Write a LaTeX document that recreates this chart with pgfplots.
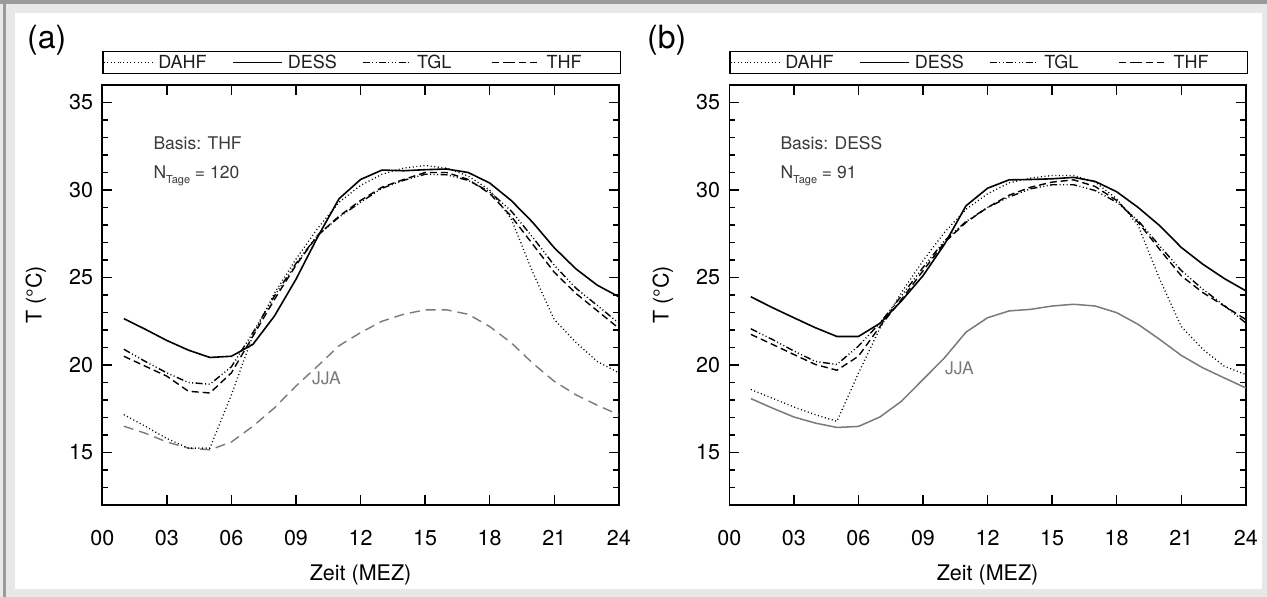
\documentclass[border=0pt]{standalone}
\usepackage{fontspec}
\setmainfont{TeX Gyre Heros}
\usepackage{pgfplots}
\pgfplotsset{compat=1.18}
\usepackage{pgfplotstable}

\definecolor{bggrey}{HTML}{E7E8E7}
\definecolor{framegrey}{HTML}{9A9A9A}
\definecolor{jja}{HTML}{7A7A7A}
\definecolor{annot}{HTML}{3A3A3A}
\definecolor{legtext}{HTML}{1E1E1E}

% hour, DAHF, DESS, TGL, THF, JJA  (Basis THF)
\pgfplotstableread{
h  DAHF  DESS  TGL   THF   JJA
1  17.16 22.65 20.90 20.50 16.50
2  16.50 22.04 20.20 19.93 16.10
3  15.80 21.40 19.55 19.36 15.60
4  15.25 20.85 19.00 18.50 15.25
5  15.25 20.43 18.90 18.40 15.15
6  18.30 20.50 19.90 19.55 15.60
7  21.70 21.18 21.85 21.65 16.50
8  24.10 22.80 23.95 23.75 17.55
9  26.05 24.90 25.80 25.70 18.80
10 27.80 27.30 27.40 27.40 19.93
11 29.30 29.50 28.45 28.50 21.10
12 30.26 30.60 29.30 29.40 21.85
13 30.90 31.14 30.10 30.16 22.50
14 31.25 31.10 30.55 30.60 22.90
15 31.40 31.16 30.90 31.00 23.15
16 31.25 31.20 30.87 31.00 23.15
17 30.80 31.00 30.55 30.60 22.90
18 30.00 30.40 29.90 29.80 22.20
19 28.35 29.40 28.80 28.50 21.27
20 25.30 28.15 27.30 26.90 20.10
21 22.60 26.70 25.70 25.30 19.07
22 21.30 25.50 24.40 24.10 18.30
23 20.20 24.56 23.40 23.10 17.70
24 19.55 23.90 22.40 22.10 17.16
}\thfdata

% hour, DAHF, DESS, TGL, THF, JJA  (Basis DESS)
\pgfplotstableread{
h  DAHF  DESS  TGL   THF   JJA
1  18.60 23.90 22.07 21.75 18.08
2  18.10 23.28 21.46 21.18 17.54
3  17.60 22.70 20.80 20.60 17.03
4  17.16 22.13 20.20 20.03 16.68
5  16.78 21.63 20.03 19.70 16.43
6  19.53 21.63 21.08 20.50 16.49
7  22.10 22.38 22.40 22.20 17.03
8  24.14 23.66 23.95 23.75 17.93
9  25.96 25.10 25.57 25.38 19.17
10 27.58 26.90 27.10 27.00 20.41
11 28.90 29.10 28.20 28.15 21.88
12 29.78 30.10 29.00 29.00 22.70
13 30.41 30.58 29.60 29.70 23.09
14 30.68 30.60 30.07 30.16 23.18
15 30.83 30.64 30.30 30.45 23.37
16 30.83 30.72 30.30 30.58 23.47
17 30.45 30.49 29.97 30.20 23.37
18 29.50 29.90 29.30 29.40 22.99
19 27.96 29.00 28.25 28.15 22.32
20 24.90 27.96 26.80 26.60 21.46
21 22.20 26.72 25.40 25.10 20.55
22 20.90 25.76 24.33 24.14 19.84
23 19.93 24.94 23.40 23.37 19.26
24 19.45 24.24 22.40 22.60 18.69
}\dessdata

\pgfplotsset{
  panel/.style={
    scale only axis,
    width=516.5pt, height=420pt,
    xmin=0, xmax=24, ymin=12, ymax=36,
    xtick={0,3,...,24},
    xticklabels={00,03,06,09,12,15,18,21,24},
    ytick={15,20,25,30,35},
    minor ytick={13,14,...,35},
    major tick length=10pt, minor tick length=6pt,
    every tick/.style={black, line width=1.3pt},
    axis line style={line width=1.6pt},
    /pgf/number format/assume math mode=true,
    tick label style={font=\fontsize{21.5}{24}\selectfont},
    xticklabel style={anchor=north, inner sep=0pt, yshift=-25pt},
    yticklabel style={anchor=east, inner sep=0pt, xshift=-9pt},
    label style={font=\fontsize{21.5}{24}\selectfont},
    xlabel={Zeit (MEZ)},
    xlabel style={at={(axis description cs:0.5,-0.1786)}, anchor=base, inner sep=0pt},
    ylabel={T (°C)},
    ylabel style={at={(axis description cs:-0.1173,0.5)}, anchor=base, inner sep=0pt},
    legend columns=4,
    legend cell align=left,
    legend style={at={(0,1)}, anchor=south west, yshift=11pt, draw=black,
      line width=1.3pt, inner sep=0pt, column sep=0pt, row sep=0pt,
      font=\fontsize{18}{20}\selectfont, text=legtext,
      nodes={inner xsep=5pt, inner ysep=4.7pt, text height=12.6pt,
        text depth=0pt, text width=69pt, align=left}},
    legend image code/.code={\path (0pt,0pt) -- (16pt,0pt);
      \draw[##1] (16pt,0pt) -- (49pt,0pt);},
  },
  sDAHF/.style={black, line width=1.3pt, dash pattern=on 1pt off 2.6pt},
  sDESS/.style={black, line width=1.6pt, solid},
  sTGL/.style={black, line width=1.4pt,
    dash pattern=on 7pt off 2.5pt on 1pt off 2.5pt on 1pt off 2.5pt on 1pt off 2.5pt},
  sTHF/.style={black, line width=1.4pt, dash pattern=on 7pt off 4pt},
}

\begin{document}
\begin{tikzpicture}
\fill[bggrey] (0pt,0pt) rectangle (1267pt,597pt);
\fill[framegrey] (0pt,593pt) rectangle (1267pt,597pt);
\fill[framegrey] (3pt,0pt) rectangle (6pt,597pt);
\fill[white] (15pt,8pt) rectangle (1262pt,584pt);

\node[anchor=base west, inner sep=0pt, font=\fontsize{32}{36}\selectfont] at (27pt,548.7pt) {(a)};
\node[anchor=base west, inner sep=0pt, font=\fontsize{32}{36}\selectfont] at (647pt,548.7pt) {(b)};

\begin{axis}[panel, at={(102.3pt,92pt)}, anchor=south west]
\addplot[jja, line width=1.4pt, dash pattern=on 10pt off 6pt, forget plot] table[x=h, y=JJA] {\thfdata};
\addplot[sDAHF] table[x=h, y=DAHF] {\thfdata};
\addplot[sDESS] table[x=h, y=DESS] {\thfdata};
\addplot[sTGL] table[x=h, y=TGL] {\thfdata};
\addplot[sTHF] table[x=h, y=THF] {\thfdata};
\legend{DAHF, DESS, TGL, THF}
\node[anchor=base west, inner sep=0pt, text=annot, font=\fontsize{17.5}{20}\selectfont] at (axis cs:2.37,32.33) {Basis: THF};
\node[anchor=base west, inner sep=0pt, text=annot, font=\fontsize{17.5}{20}\selectfont] at (axis cs:2.37,30.68) {N\raisebox{-5pt}{\fontsize{11}{11}\selectfont Tage} = 120};
\node[anchor=base west, inner sep=0pt, text=jja, font=\fontsize{17.5}{20}\selectfont] at (axis cs:9.74,18.89) {JJA};
\end{axis}

\begin{axis}[panel, at={(729.3pt,92pt)}, anchor=south west]
\addplot[jja, line width=1.5pt, solid, forget plot] table[x=h, y=JJA] {\dessdata};
\addplot[sDAHF] table[x=h, y=DAHF] {\dessdata};
\addplot[sDESS] table[x=h, y=DESS] {\dessdata};
\addplot[sTGL] table[x=h, y=TGL] {\dessdata};
\addplot[sTHF] table[x=h, y=THF] {\dessdata};
\legend{DAHF, DESS, TGL, THF}
\node[anchor=base west, inner sep=0pt, text=annot, font=\fontsize{17.5}{20}\selectfont] at (axis cs:2.37,32.33) {Basis: DESS};
\node[anchor=base west, inner sep=0pt, text=annot, font=\fontsize{17.5}{20}\selectfont] at (axis cs:2.37,30.68) {N\raisebox{-5pt}{\fontsize{11}{11}\selectfont Tage} = 91};
\node[anchor=base west, inner sep=0pt, text=jja, font=\fontsize{17.5}{20}\selectfont] at (axis cs:10.02,19.46) {JJA};
\end{axis}
\end{tikzpicture}
\end{document}
